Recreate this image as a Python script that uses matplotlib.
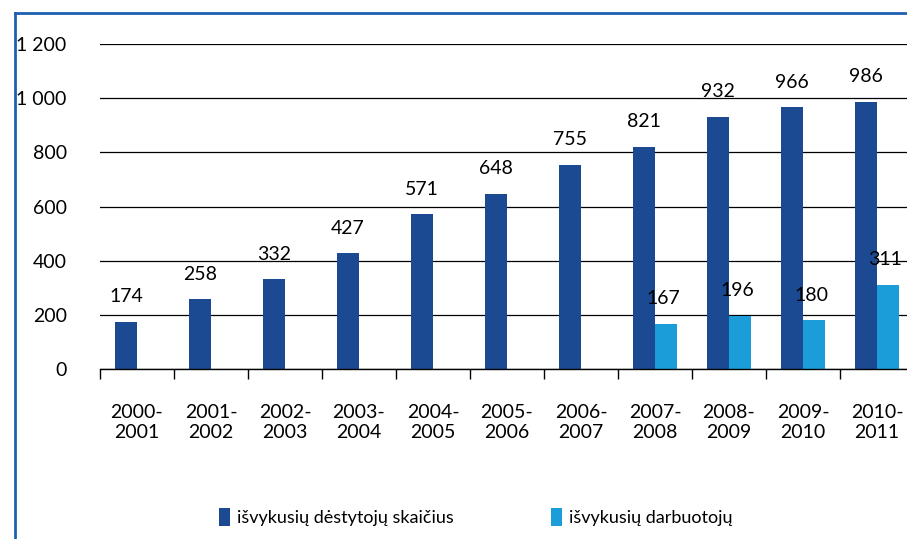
import matplotlib
matplotlib.use("Agg")
import matplotlib.pyplot as plt
from matplotlib.lines import Line2D
from matplotlib.ticker import FuncFormatter
import numpy as np

plt.rcParams["font.family"] = ["Lato", "DejaVu Sans"]

years = ["2000-\n2001", "2001-\n2002", "2002-\n2003", "2003-\n2004", "2004-\n2005",
         "2005-\n2006", "2006-\n2007", "2007-\n2008", "2008-\n2009", "2009-\n2010",
         "2010-\n2011"]
destytojai = [174, 258, 332, 427, 571, 648, 755, 821, 932, 966, 986]
darbuotojai = [None, None, None, None, None, None, None, 167, 196, 180, 311]

label_dest = "išvykusių dėstytojų skaičius"
label_darb = "išvykusių darbuotojų"

dark = "#1b4a92"
light = "#1b9dd9"
fs = 14

W, H = 907, 539
fig = plt.figure(figsize=(W / 100, H / 100), dpi=100)
ax = fig.add_axes([100 / W, (H - 369) / H, 814 / W, (369 - 44) / H])

x = np.arange(len(years))
bw = 0.3
b1 = ax.bar(x - bw / 2, destytojai, bw, color=dark, label=label_dest, zorder=2)
for xi, v in zip(x, destytojai):
    ax.annotate(str(v), (xi - bw / 2, v), xytext=(0, 18), textcoords="offset points",
                ha="center", va="center", fontsize=fs)

xd = [xi for xi, v in zip(x, darbuotojai) if v is not None]
vd = [v for v in darbuotojai if v is not None]
b2 = ax.bar(np.array(xd) + bw / 2, vd, bw, color=light, label=label_darb, zorder=2)
for xi, v in zip(xd, vd):
    ax.annotate(str(v), (xi + bw / 2, v), xytext=(-2, 18), textcoords="offset points",
                ha="center", va="center", fontsize=fs)

ax.set_xlim(-0.5, len(years) - 0.5)
ax.set_ylim(0, 1200)
ax.set_yticks(range(0, 1201, 200))
ax.yaxis.set_major_formatter(FuncFormatter(lambda v, p: f"{int(v):,}".replace(",", " ")))
ax.set_xticks(x)
ax.set_xticklabels(years, fontsize=fs, linespacing=1.2)
ax.set_xticks(np.arange(-0.5, len(years)), minor=True)
ax.tick_params(axis="x", which="major", length=0, pad=25)
ax.tick_params(axis="x", which="minor", length=7, width=1, direction="out")
ax.tick_params(axis="y", length=0, pad=24, labelsize=fs)

for s in ["top", "right", "left"]:
    ax.spines[s].set_visible(False)
ax.spines["bottom"].set_linewidth(1.0)
ax.grid(axis="y", color="black", linewidth=0.9, zorder=0)
ax.set_axisbelow(True)

fig.legend(handles=[b1, b2], loc="center", bbox_to_anchor=(476 / W, (H - 517) / H),
           ncol=2, frameon=False, fontsize=13, handlelength=0.6, handleheight=1.2,
           handletextpad=0.4, columnspacing=5.4)

# blue frame of the figure box
fig.add_artist(Line2D([15 / W, 15 / W], [0, (H - 13) / H], color="#1f5fb0", lw=2.0,
                      transform=fig.transFigure))
fig.add_artist(Line2D([15 / W, 1], [(H - 13) / H, (H - 13) / H], color="#1f5fb0", lw=2.0,
                      transform=fig.transFigure))

fig.savefig("out.png", dpi=100)
